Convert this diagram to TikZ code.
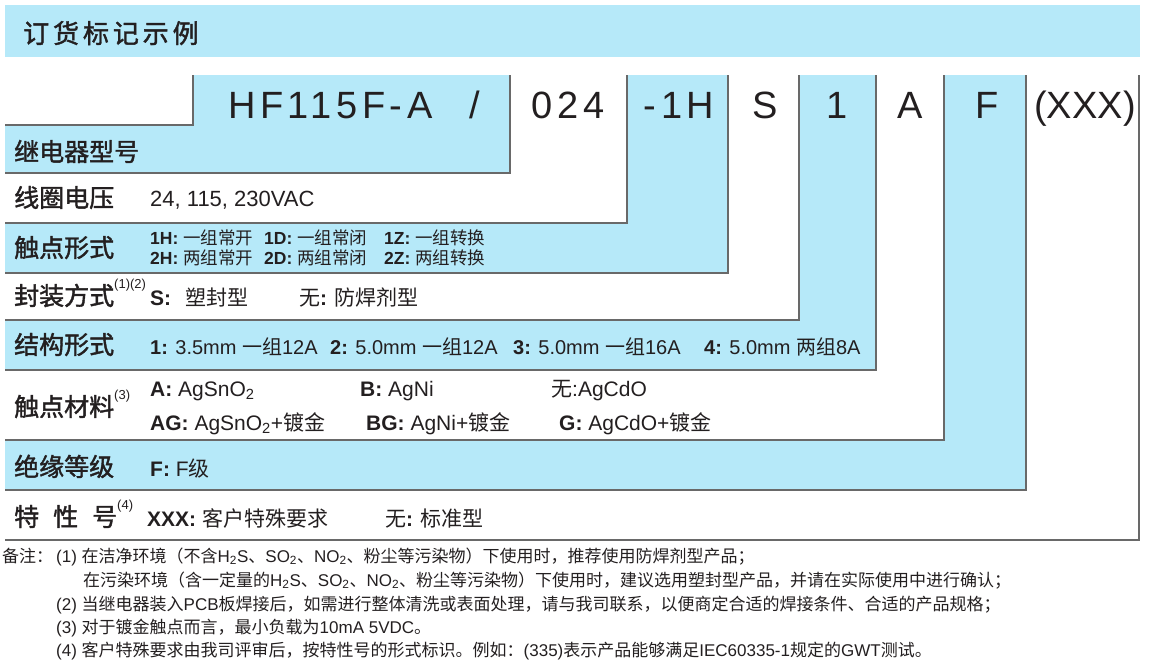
\documentclass[tikz,border=0pt]{standalone}
\usepackage{fontspec}
\usepackage{tikz}
\usetikzlibrary{positioning}
\setmainfont{Liberation Sans}
\newfontfamily\zhfont{Noto Sans CJK SC}
\newfontfamily\zhlabelfont[FakeBold=1.6]{Noto Sans CJK SC}
\newfontfamily\zhtitlefont[LetterSpace=15, FakeBold=1.6]{Noto Sans CJK SC}
\newfontfamily\codefont[LetterSpace=12]{Liberation Sans}
\definecolor{codeblue}{RGB}{182, 233, 249}
\definecolor{textgray}{RGB}{35, 31, 32}
\definecolor{edgegray}{RGB}{105, 105, 105}
\newcommand{\zh}[1]{{\zhfont #1}}
\newcommand{\supnote}[1]{\raisebox{17pt}{\rmfamily\mdseries\fontsize{13}{13}\selectfont #1}}

\begin{document}
\begin{tikzpicture}[
  x=1pt, y=-1pt,
  edge/.style={draw=edgegray, line width=1.2pt},
  title/.style={anchor=base west, inner sep=0, text=textgray, font=\zhtitlefont\fontsize{26}{30}\selectfont},
  code/.style={anchor=base, inner sep=0, text=textgray, font=\codefont\fontsize{38}{42}\selectfont},
  codeplain/.style={anchor=base, inner sep=0, text=textgray, font=\fontsize{38}{42}\selectfont},
  lab/.style={anchor=base west, inner sep=0, text=textgray, font=\zhlabelfont\fontsize{25}{28}\selectfont},
  opt/.style={anchor=base west, inner sep=0, text=textgray, font=\fontsize{21}{24}\selectfont},
  small/.style={opt, font=\fontsize{17.5}{20}\selectfont},
  note/.style={anchor=base west, inner sep=0, text=textgray, font=\fontsize{17}{20}\selectfont}
]
\useasboundingbox (0,0) rectangle (1150,666);

% header band
\fill[codeblue] (5,5) rectangle (1140,57);
\node[title] (head) at (23,43) {订货标记示例};

% nested code boxes, outermost first
\foreach \r/\b/\c in {1139/540/white, 1026/490/codeblue, 944/440/white, 876/370/codeblue,
                      799/320/white, 728/273/codeblue, 627/223/white, 510/173/codeblue, 193/125/white}{
  \fill[\c] (5,75) rectangle (\r,\b);
  \draw[edge] (5,\b) -- (\r,\b) -- (\r,75);
}

% code row
\node[code, anchor=base west] (model) at (228,118) {HF115F-A};
\node[codeplain] (slash) at (475,118) {/};
\node[code] (volt) at (568,118) {024};
\node[code] (form) at (679,118) {-1H};
\node[codeplain] (seal) at (765,118) {S};
\node[codeplain] (struct) at (837,118) {1};
\node[codeplain] (mat) at (910,118) {A};
\node[codeplain] (ins) at (987,118) {F};
\node[codeplain] (spec) at (1085,118) {(XXX)};

% row labels
\node[lab] (l1) at (14,161) {继电器型号};
\node[lab] (l2) at (14,207) {线圈电压};
\node[lab] (l3) at (14,257) {触点形式};
\node[lab] (l4) at (14,305) {封装方式\supnote{(1)(2)}};
\node[lab] (l5) at (14,354) {结构形式};
\node[lab] (l6) at (14,416) {触点材料\supnote{(3)}};
\node[lab] (l7) at (14,476) {绝缘等级};
\node[lab] (l8) at (14,526) {特\hspace{14pt}性\hspace{14pt}号\supnote{(4)}};

% options
\node[opt, font=\fontsize{22}{26}\selectfont] (o2) at (150,206) {24, 115, 230VAC};

\node[small] (o3a) at (150,244) {\textbf{1H:} \zh{一组常开}};
\node[small] (o3b) at (264,244) {\textbf{1D:} \zh{一组常闭}};
\node[small] (o3c) at (384,244) {\textbf{1Z:} \zh{一组转换}};
\node[small] (o3d) at (150,264) {\textbf{2H:} \zh{两组常开}};
\node[small] (o3e) at (264,264) {\textbf{2D:} \zh{两组常闭}};
\node[small] (o3f) at (384,264) {\textbf{2Z:} \zh{两组转换}};

\node[opt] (o4a) at (150,305) {\textbf{S:}\hspace{14pt}\zh{塑封型}};
\node[opt] (o4b) at (299,305) {\zh{无}\textbf{:} \zh{防焊剂型}};

\node[opt, font=\fontsize{20}{24}\selectfont] (o5a) at (150,354) {\textbf{1:} 3.5mm \zh{一组}12A};
\node[opt, font=\fontsize{20}{24}\selectfont] (o5b) at (330,354) {\textbf{2:} 5.0mm \zh{一组}12A};
\node[opt, font=\fontsize{20}{24}\selectfont] (o5c) at (513,354) {\textbf{3:} 5.0mm \zh{一组}16A};
\node[opt, font=\fontsize{20}{24}\selectfont] (o5d) at (704,354) {\textbf{4:} 5.0mm \zh{两组}8A};

\node[opt] (o6a) at (150,396) {\textbf{A:} AgSnO\textsubscript{2}};
\node[opt] (o6b) at (360,396) {\textbf{B:} AgNi};
\node[opt] (o6c) at (551,396) {\zh{无}:AgCdO};
\node[opt] (o6d) at (150,430) {\textbf{AG:} AgSnO\textsubscript{2}+\zh{镀金}};
\node[opt] (o6e) at (366,430) {\textbf{BG:} AgNi+\zh{镀金}};
\node[opt] (o6f) at (559,430) {\textbf{G:} AgCdO+\zh{镀金}};

\node[opt] (o7) at (150,476) {\textbf{F:} F\zh{级}};

\node[opt] (o8a) at (147,526) {\textbf{XXX:} \zh{客户特殊要求}};
\node[opt] (o8b) at (385,526) {\zh{无}\textbf{:} \zh{标准型}};

% notes
\node[note] (n0) at (2,562) {\zh{备注：}};
\node[note] (n1) at (56,562) {(1) \zh{在洁净环境（不含}H\textsubscript{2}S\zh{、}SO\textsubscript{2}\zh{、}NO\textsubscript{2}\zh{、粉尘等污染物）下使用时，推荐使用防焊剂型产品；}};
\node[note] (n1b) at (83,586) {\zh{在污染环境（含一定量的}H\textsubscript{2}S\zh{、}SO\textsubscript{2}\zh{、}NO\textsubscript{2}\zh{、粉尘等污染物）下使用时，建议选用塑封型产品，并请在实际使用中进行确认；}};
\node[note] (n2) at (56,610) {(2) \zh{当继电器装入}PCB\zh{板焊接后，如需进行整体清洗或表面处理，请与我司联系，以便商定合适的焊接条件、合适的产品规格；}};
\node[note] (n3) at (56,633) {(3) \zh{对于镀金触点而言，最小负载为}10mA 5VDC\zh{。}};
\node[note] (n4) at (56,656) {(4) \zh{客户特殊要求由我司评审后，按特性号的形式标识。例如：}(335)\zh{表示产品能够满足}IEC60335-1\zh{规定的}GWT\zh{测试。}};
\end{tikzpicture}
\end{document}
